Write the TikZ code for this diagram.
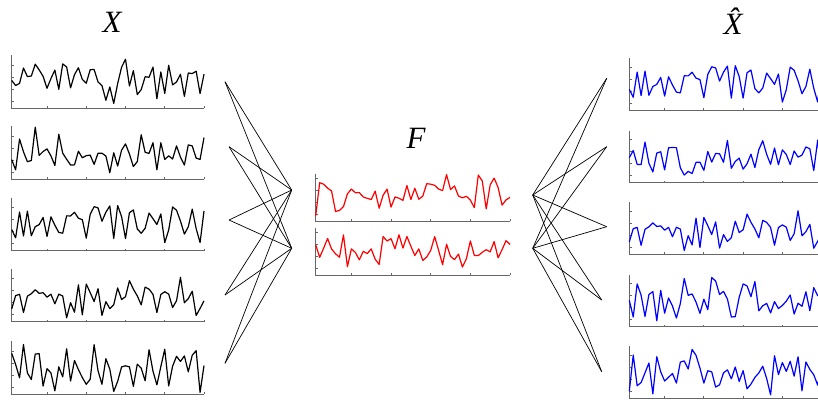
\documentclass[tikz,border=0pt]{standalone}
\usepackage{fontspec}
\setmainfont{Liberation Serif}
\begin{document}
\begin{tikzpicture}[x=1pt,y=-1pt,
  axisline/.style={draw=gray!80!black,line width=0.9pt},
  series/.style={line width=1.2pt,line join=round},
  conn/.style={draw=black,line width=0.7pt},
  lbl/.style={font=\fontsize{31}{31}\selectfont\itshape,inner sep=0pt}]
\clip (0,0) rectangle (818,405);
\newcommand\tsplot[6]{%
  \pgfmathsetseed{#6}%
  \draw[axisline] (#1,{#2-#4}) -- (#1,#2) -- ({#1+#3},#2);
  \foreach \k in {1,...,5} \draw[axisline] ({#1+(10*\k-1)*#3/49},#2) -- ++(0,-2.2);
  \foreach \k in {0,...,3} \draw[axisline] (#1,{#2-6.8-\k*12}) -- ++(2.2,0);
  \draw[series,#5] plot[domain=1:50,samples=50]
    ({#1+(\x-1)*#3/49},{#2-#4*(0.5+0.25*(rand+rand))});
}
% left column X
\tsplot{11.7}{108.3}{192.3}{53}{black}{11}
\tsplot{11.7}{179.3}{192.3}{53}{black}{22}
\tsplot{11.7}{250.7}{192.3}{53}{black}{33}
\tsplot{11.7}{321.7}{192.3}{53}{black}{44}
\tsplot{11.7}{394.0}{192.3}{53}{black}{55}
% middle F
\tsplot{315.7}{221.0}{194.3}{47.5}{red}{66}
\tsplot{315.7}{275.0}{194.3}{47.5}{red}{77}
% right column Xhat
\tsplot{629.3}{110.0}{192.3}{52}{blue}{33}
\tsplot{629.3}{182.7}{192.3}{52}{blue}{88}
\tsplot{629.3}{254.3}{192.3}{52}{blue}{44}
\tsplot{629.3}{326.7}{192.3}{52}{blue}{99}
\tsplot{629.3}{398.3}{192.3}{52}{blue}{111}
% labels
\node[lbl] (lx) at (112,22) {X};
\node[lbl] (lf) at (416,138) {F};
\node[lbl] (lxh) at (733,21) {\^{X}};
% encoder connectors
\coordinate (a1) at (225,81.7);
\coordinate (a2) at (229,146.7);
\coordinate (a3) at (229,220);
\coordinate (a4) at (225,295);
\coordinate (a5) at (225,363.3);
\coordinate (b1) at (291.7,190);
\coordinate (b2) at (291.7,248.3);
\foreach \i in {1,...,5} {\draw[conn] (a\i) -- (b1); \draw[conn] (a\i) -- (b2);}
% decoder connectors
\coordinate (c1) at (532.7,195);
\coordinate (c2) at (532.7,248.3);
\coordinate (d1) at (606.7,78.3);
\coordinate (d2) at (606.7,146.7);
\coordinate (d3) at (606.7,226.7);
\coordinate (d4) at (601.7,300);
\coordinate (d5) at (601.7,371.7);
\foreach \i in {1,...,5} {\draw[conn] (c1) -- (d\i); \draw[conn] (c2) -- (d\i);}
\end{tikzpicture}
\end{document}
